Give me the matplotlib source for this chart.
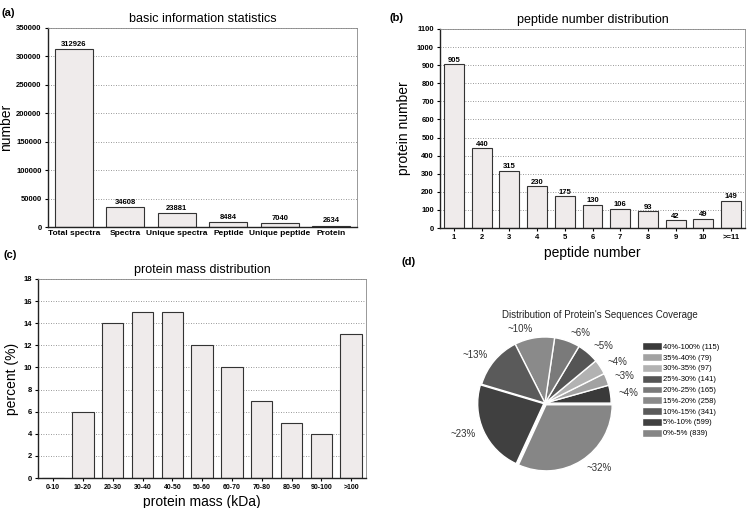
import numpy as np
import matplotlib
matplotlib.use("Agg")
import matplotlib.pyplot as plt

plt.rcParams["font.family"] = ["Liberation Sans", "DejaVu Sans"]

# --------------------------------------------------
# data
# --------------------------------------------------

basic_labels = ["Total spectra", "Spectra", "Unique spectra", "Peptide",
                "Unique peptide", "Protein"]
basic_values = [312926, 34608, 23881, 8484, 7040, 2634]

pep_labels = ["1", "2", "3", "4", "5", "6", "7", "8", "9", "10", ">=11"]
pep_values = [905, 440, 315, 230, 175, 130, 106, 93, 42, 49, 149]

mass_labels = ["0-10", "10-20", "20-30", "30-40", "40-50", "50-60",
               "60-70", "70-80", "80-90", "90-100", ">100"]
mass_values = [0, 6, 14, 15, 15, 12, 10, 7, 5, 4, 13]

cov_labels = ["40%-100% (115)", "35%-40% (79)", "30%-35% (97)",
              "25%-30% (141)", "20%-25% (165)", "15%-20% (258)",
              "10%-15% (341)", "5%-10% (599)", "0%-5% (839)"]
cov_counts = [115, 79, 97, 141, 165, 258, 341, 599, 839]
cov_pct_text = ["~4%", "~3%", "~4%", "~5%", "~6%", "~10%", "~13%", "~23%", "~32%"]
cov_colors = ["#3a3a3a", "#a2a2a2", "#b2b2b2", "#555555", "#7a7a7a",
              "#8a8a8a", "#5a5a5a", "#404040", "#868686"]

BAR_FILL = "#efebeb"
BAR_EDGE = "#333333"


def style_axes(ax, yticks):
    ax.set_yticks(yticks)
    ax.yaxis.grid(True, linestyle=(0, (1, 2)), color="#777777", linewidth=0.6)
    ax.set_axisbelow(True)
    for side in ["top", "right"]:
        ax.spines[side].set_color("#888888")
        ax.spines[side].set_linewidth(0.6)
    for side in ["left", "bottom"]:
        ax.spines[side].set_color("#222222")
        ax.spines[side].set_linewidth(1.0)
    ax.tick_params(axis="both", length=2.5, width=0.8, pad=2)
    for lab in ax.get_xticklabels() + ax.get_yticklabels():
        lab.set_fontweight("bold")


fig = plt.figure(figsize=(7.5, 5.08), dpi=100)

# --------------------------------------------------
# (a) basic information statistics
# --------------------------------------------------

ax_a = fig.add_axes([0.064, 0.553, 0.412, 0.392])
x = np.arange(len(basic_values))
ax_a.bar(x, basic_values, width=0.74, color=BAR_FILL, edgecolor=BAR_EDGE, linewidth=0.8)
for xi, v in zip(x, basic_values):
    ax_a.text(xi, v + 2500, str(v), ha="center", va="bottom", fontsize=5.5, fontweight="bold")
ax_a.set_xlim(-0.5, len(basic_values) - 0.5)
ax_a.set_ylim(0, 350000)
ax_a.set_xticks(x)
ax_a.set_xticklabels(basic_labels, fontsize=6)
ax_a.tick_params(axis="y", labelsize=5.5)
style_axes(ax_a, np.arange(0, 350001, 50000))
ax_a.tick_params(axis="x", length=0)
ax_a.set_ylabel("number", fontsize=10, labelpad=2)
ax_a.set_title("basic information statistics", fontsize=9, pad=4)
fig.text(0.002, 0.985, "(a)", fontsize=8, fontweight="bold", va="top")

# --------------------------------------------------
# (b) peptide number distribution
# --------------------------------------------------

ax_b = fig.add_axes([0.587, 0.551, 0.406, 0.392])
x = np.arange(len(pep_values))
ax_b.bar(x, pep_values, width=0.72, color=BAR_FILL, edgecolor=BAR_EDGE, linewidth=0.8)
for xi, v in zip(x, pep_values):
    ax_b.text(xi, v + 4, str(v), ha="center", va="bottom", fontsize=5.5, fontweight="bold")
ax_b.set_xlim(-0.5, len(pep_values) - 0.5)
ax_b.set_ylim(0, 1100)
ax_b.set_xticks(x)
ax_b.set_xticklabels(pep_labels, fontsize=5.5)
ax_b.tick_params(axis="y", labelsize=5.5)
style_axes(ax_b, np.arange(0, 1101, 100))
ax_b.set_ylabel("protein number", fontsize=10, labelpad=4)
ax_b.set_xlabel("peptide number", fontsize=10, labelpad=3)
ax_b.set_title("peptide number distribution", fontsize=9, pad=4)
fig.text(0.52, 0.975, "(b)", fontsize=8, fontweight="bold", va="top")

# --------------------------------------------------
# (c) protein mass distribution
# --------------------------------------------------

ax_c = fig.add_axes([0.051, 0.059, 0.437, 0.392])
x = np.arange(len(mass_values))
ax_c.bar(x, mass_values, width=0.72, color=BAR_FILL, edgecolor=BAR_EDGE, linewidth=0.8)
ax_c.set_xlim(-0.5, len(mass_values) - 0.5)
ax_c.set_ylim(0, 18)
ax_c.set_xticks(x)
ax_c.set_xticklabels(mass_labels, fontsize=5)
ax_c.tick_params(axis="y", labelsize=5.5)
style_axes(ax_c, np.arange(0, 19, 2))
ax_c.set_ylabel("percent (%)", fontsize=10, labelpad=3)
ax_c.set_xlabel("protein mass (kDa)", fontsize=10, labelpad=3)
ax_c.set_title("protein mass distribution", fontsize=9, pad=4)
fig.text(0.004, 0.498, "(c)", fontsize=8, fontweight="bold", va="center")

# --------------------------------------------------
# (d) sequence coverage pie
# --------------------------------------------------

ax_d = fig.add_axes([0.62, 0.049, 0.2133, 0.315])
explode = [0, 0, 0, 0, 0, 0, 0, 0.02, 0.03]
wedges, texts = ax_d.pie(cov_counts, colors=cov_colors, startangle=0,
                         counterclock=True, explode=explode,
                         labels=cov_pct_text, labeldistance=1.13,
                         wedgeprops=dict(edgecolor="white", linewidth=1.0),
                         textprops=dict(fontsize=7, color="#333333"))
ax_d.set_xlim(-1.21, 1.21)
ax_d.set_ylim(-1.21, 1.21)
ax_d.set_aspect("equal")
fig.text(0.80, 0.38, "Distribution of Protein's Sequences Coverage",
         fontsize=7, ha="center", va="center", color="#222222")
fig.legend(wedges, cov_labels, loc="upper left", bbox_to_anchor=(0.852, 0.332),
           fontsize=5.5, frameon=False, handlelength=2.6, handleheight=1.2,
           handletextpad=0.1, labelspacing=0.3, borderaxespad=0)
fig.text(0.535, 0.484, "(d)", fontsize=8, fontweight="bold", va="center")

fig.savefig("out.png", dpi=100)
